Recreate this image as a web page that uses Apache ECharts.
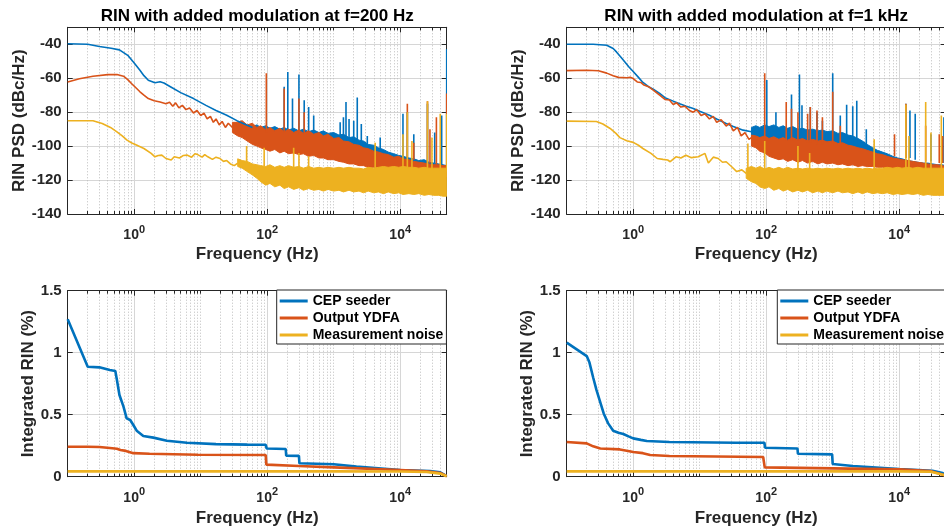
<!DOCTYPE html>
<html>
<head>
<meta charset="utf-8">
<script src="https://cdn.jsdelivr.net/npm/echarts@6/dist/echarts.min.js"></script>
<style>
  html, body { margin: 0; padding: 0; background: #fff; }
  #chart { width: 944px; height: 526px; }
</style>
</head>
<body>
<div id="chart"></div>
<script>
// ---- data ----
const seriesNames = ["CEP seeder", "Output YDFA", "Measurement noise"];
const titles = ["RIN with added modulation at f=200 Hz", "RIN with added modulation at f=1 kHz"];
const freqTickValues = [1, 100, 10000];

// frequency nodes used for the noisy bands (Hz)
const bandFreq = [30, 36, 42, 50, 60, 70, 80, 95, 110, 130, 155, 180, 210, 250, 300, 350, 420, 500, 600, 700,
  820, 1000, 1200, 1400, 1700, 2000, 2400, 2800, 3300, 4000, 4700, 5600, 6600, 8000, 9500, 11000, 13500, 16000,
  19000, 23000, 27000, 32000, 38000, 44000, 50000];

// ---- f = 200 Hz, PSD (dBc/Hz) ----
const tlBlueLine = [[0.1,-39.7],[0.2,-40],[0.3,-41.3],[0.45,-42.3],[0.6,-43.3],[0.8,-46.5],[1.0,-51],[1.22,-55.3],
  [1.4,-58.5],[1.63,-61.2],[2.05,-62.7],[2.45,-62.1],[2.8,-62.8],[3.5,-65],[5,-68.5],[7.8,-72],[12,-76],[17,-79],
  [24.6,-81.8],[35,-85],[49,-87.6],[60,-89]];
const tlBlueHigh = [null,null,null,null,-88.5,-87.5,-89,-88,-89.5,-88.5,-90,-89,-90.5,-89.5,-91,-90,-91.5,-90.5,-92,-91,
  -92.5,-92,-93.5,-93,-95,-94.5,-96.5,-97,-99,-99.5,-101,-102,-103.5,-104.5,-105.5,-106,-107,-107.5,-108.5,-108,
  -109.5,-110,-110.5,-111,-111.5];
const tlBlueLow = [null,null,null,null,-93,-94,-95,-96,-98,-99,-99,-100,-100,-101,-101,-102,-102,-103,-103,-104,
  -104,-105,-105,-106,-107,-107,-108,-108,-109,-110,-110,-111,-111,-112,-112,-113,-113,-114,-114,-115,
  -115,-115,-116,-116,-116];
const tlBlueSpikes = [[180,-92,-65],[204,-92,-56.3],[240,-92,-72],[300,-92,-57.8],[360,-93,-73],[420,-93,-77],
  [500,-94,-82],[1250,-96,-86],[1400,-96,-83],[1530,-97,-74],[1700,-98,-84],[2000,-98,-85],[2260,-99,-71.4],
  [2600,-100,-87],[3200,-102,-94],[5000,-104,-95],[11000,-106,-81],[12800,-107,-80],[16000,-108,-93],
  [25700,-110,-75],[33000,-110,-92],[42000,-111,-82],[50000,-112,-43]];

const tlOrangeLine = [[0.1,-62.2],[0.15,-60.3],[0.24,-58.8],[0.4,-57.9],[0.55,-57.8],[0.69,-58.8],[0.8,-60.8],
  [0.91,-63.1],[1.05,-65.5],[1.22,-68],[1.4,-70],[1.63,-72],[2.0,-73.3],[2.45,-74],[3.0,-75],[3.4,-74.2],[3.8,-76.5],
  [4.2,-74.5],[4.7,-77.5],[5.3,-76],[6,-78.5],[6.8,-77.5],[7.8,-80.5],[8.8,-79],[10,-82],[11.2,-80.5],[12.5,-84],
  [14,-82.5],[15.5,-86],[17,-84],[19,-87.5],[21,-85.5],[23.5,-89],[26,-86.5],[30,-89]];
const tlOrangeHigh = [-86,-86,-85,-87.5,-86.5,-89,-88,-90.5,-89,-91,-89.5,-91.5,-90,-92,-90.5,-92.5,-91,-93,-92,-94,
  -93,-95.5,-95,-97,-97.5,-99,-99.5,-101,-101.5,-103,-103.5,-104.5,-105,-106.5,-106,-107.5,-108,-109,-109.5,-110,
  -110.5,-111,-111,-111.5,-111.5];
const tlOrangeLow = [-92,-94,-95,-97,-99,-100,-101,-102,-103,-102,-104,-103,-104.5,-104,-105,-104.5,-106,-105.5,-107,-107,
  -108,-108,-109,-109.5,-110.5,-110.5,-111.5,-111.5,-112.5,-112.5,-113.5,-113.5,-114,-114.5,-115,-115,-115.5,-116,
  -116,-116.5,-117,-117,-117.5,-117.5,-118];
const tlOrangeSpikes = [[97,-92,-57],[180,-92,-66],[300,-93,-72],[360,-93,-80],[12800,-107,-75],[16000,-108,-98],
  [25700,-110,-73.5],[28000,-110,-90],[35000,-111,-83],[50000,-112,-69]];

const tlYellowLine = [[0.1,-85.1],[0.24,-85.1],[0.33,-86.7],[0.44,-89],[0.55,-91.6],[0.66,-94],[0.78,-96.5],
  [0.92,-98.2],[1.08,-99.4],[1.4,-101.4],[1.8,-104.3],[2.05,-106.3],[2.3,-105.5],[2.6,-105.3],[3.0,-107.3],
  [3.6,-108.2],[4.0,-106.3],[4.8,-107],[5.5,-105.5],[6.2,-105.3],[7.3,-106.5],[8.2,-104.5],[9,-105],[10.5,-106.5],
  [11.5,-105],[12.8,-106.3],[15,-107.8],[17,-106.5],[19.5,-107.3],[22,-109],[24.6,-108.5],[28,-110.5],[32,-111.5],
  [36,-110]];
const tlYellowHigh = [null,-107.5,-108.5,-109,-110.5,-111,-111.5,-112,-111,-112.5,-111.5,-112.5,-111.5,-112.5,-112,
  -113,-112,-113,-112.5,-113,-112.5,-113,-112.5,-113,-112.5,-113,-113,-113.5,-112.5,-113,-112.5,-112,-112.5,-112,
  -112.5,-112,-112.5,-112.5,-113,-112.5,-113,-113,-113,-113,-113];
const tlYellowLow = [null,-112,-113,-115,-117,-119,-121,-123,-122,-124,-123,-125,-124,-125.5,-124.5,-126,-125,-126,
  -125.5,-126.5,-125.5,-126.5,-126,-127,-126,-127,-126.5,-127.5,-126.5,-127.5,-127,-128,-127,-128,-127.5,-128.5,
  -128,-128.5,-128,-129,-128.5,-129,-129,-129.5,-129.5];
const tlYellowSpikes = [[49,-110,-100],[90,-112,-101],[250,-114,-101],[300,-114,-104],[420,-114,-106],
  [4200,-114,-98],[11000,-113,-93],[12800,-113,-80],[15000,-114,-97],[25700,-114,-73.5],[30000,-114,-95],
  [40000,-115,-81],[50000,-115,-81]];

// ---- f = 1 kHz, PSD (dBc/Hz) ----
const trBlueLine = [[0.1,-40],[0.25,-40],[0.4,-40.6],[0.5,-42.5],[0.56,-44.5],[0.65,-47.5],[0.75,-50.4],[0.87,-53.5],
  [1.0,-56],[1.2,-59.5],[1.4,-62.5],[1.7,-65],[2.0,-66.5],[2.5,-69],[3.0,-71.5],[4.0,-73.5],[5.0,-75],[6.3,-76.5],
  [8,-77.8],[10,-79.5],[14,-81.8],[18,-84],[25,-86.7],[32,-88.5],[45,-90.6],[60,-91.5]];
const trBlueHigh = [null,null,null,null,-89,-88,-89,-87.5,-88.5,-87.5,-89,-88,-89.5,-88.5,-90,-89.5,-90.5,-90,-91,-90.5,
  -91.5,-91,-92.5,-92,-93.5,-94,-95.5,-97,-99,-101,-102.5,-103.5,-104.5,-106,-107,-107.5,-108.5,-109,-109.5,-110,
  -110,-110.5,-111,-111,-111.5];
const trBlueLow = [null,null,null,null,-95,-96,-97,-98,-99,-99,-100,-100,-101,-101,-102,-102,-103,-103,-104,-104,
  -105,-105,-106,-106,-107,-107,-108,-108,-109,-109,-110,-110,-111,-111,-112,-112,-113,-113,-114,-114,
  -115,-115,-115,-116,-116];
const trBlueSpikes = [[102,-92,-61],[140,-92,-80],[240,-93,-69.6],[316,-93,-57.8],[345,-93,-76],[460,-94,-77],
  [580,-94,-80],[700,-95,-85],[1000,-96,-57],[1300,-97,-82],[1620,-98,-75.6],[2000,-99,-76.5],[2300,-100,-73.3],
  [3200,-102,-90],[12600,-107,-75],[14500,-107,-79],[17400,-108,-81],[30000,-109,-93],[47000,-110,-83]];

const trOrangeLine = [[0.1,-55.5],[0.2,-55.3],[0.3,-55.6],[0.4,-57],[0.5,-58.5],[0.6,-59.5],[0.8,-59.7],[0.9,-59.5],
  [1.0,-60.2],[1.15,-62.2],[1.3,-62.5],[1.45,-64],[1.7,-65],[2.0,-67],[2.5,-70],[3.0,-72.5],[3.5,-72.8],[4.0,-75.5],
  [4.5,-74.5],[5.2,-77],[6,-76.5],[7,-79],[8,-80],[9,-78.5],[10.5,-82],[12,-81],[14,-84],[16,-82.5],[18,-86],
  [21,-84.5],[25,-88.2],[28,-86.5],[32,-91],[37,-89],[42,-94],[48,-92],[55,-96],[60,-95]];
const trOrangeHigh = [null,null,null,null,-93.5,-94,-95,-94,-95.5,-94.5,-96,-95,-96.5,-95,-96.5,-95.5,-97,-96,-97,-96.5,
  -97.5,-97,-98.5,-98,-99.5,-100,-101,-101.5,-102.5,-103.5,-104.5,-105,-106,-107,-107.5,-108,-108.5,-109,-109.5,
  -110,-110.5,-111,-111,-111.5,-112];
const trOrangeLow = [null,null,null,null,-100,-101,-103,-104,-106,-107,-108,-107.5,-109,-108,-109.5,-108.5,-110,-109,
  -110.5,-109.5,-110.5,-110,-111,-110.5,-111.5,-111,-112,-111.5,-112,-112,-112.5,-112.5,-113,-113,-113.5,-113.5,
  -114,-114,-114.5,-114.5,-115,-115,-115.5,-115.5,-116];
const trOrangeSpikes = [[95,-96,-57],[200,-97,-74],[240,-97,-78],[300,-97,-80],[420,-98,-81],[460,-98,-77],
  [580,-99,-79],[700,-99,-83],[1000,-100,-68],[1300,-101,-88],[8500,-106,-93],[12600,-107,-75],[25000,-109,-88],
  [40000,-110,-93],[45000,-110,-94]];

const trYellowLine = [[0.1,-85.3],[0.28,-85.5],[0.35,-87],[0.45,-89.6],[0.55,-92.5],[0.63,-95],[0.8,-96.8],[1.0,-97.8],
  [1.2,-99.5],[1.4,-101.4],[1.85,-104.3],[2.3,-107.3],[2.8,-107.8],[3.3,-108.2],[3.6,-109.2],[4.4,-106.3],[5.2,-107],
  [6.2,-105.4],[7.5,-106.8],[9.5,-106.3],[12,-104.3],[13.5,-110],[16,-106.5],[19,-107.3],[22,-109.5],[25,-109.2],
  [30,-112],[36,-115],[43,-114],[50,-116]];
const trYellowHigh = [null,null,null,-113,-112,-113,-112,-113.5,-112.5,-113.5,-112.5,-113.5,-112.5,-113.5,-113,-113.5,
  -113,-113.5,-113,-113.5,-113,-113.5,-113,-113.5,-113,-113.5,-113,-113.5,-113,-113.5,-113,-113,-112.5,-113,-112.5,
  -113,-112.5,-113,-112.5,-113,-113,-113,-113,-113,-113];
const trYellowLow = [null,null,null,-119,-121,-122,-124,-125,-124,-126,-125,-126.5,-125.5,-127,-126,-127,-126,-127.5,
  -126.5,-127.5,-126.5,-127.5,-126.5,-127.5,-127,-128,-127,-128,-127,-128,-127.5,-128,-127.5,-128.5,-128,-128.5,
  -128,-128.5,-128,-129,-128.5,-129,-129,-129,-129];
const trYellowSpikes = [[53,-113,-98.4],[95,-114,-97],[300,-115,-100],[450,-115,-104],[4200,-115,-96],
  [12600,-114,-75.5],[14000,-114,-94],[25000,-114,-74],[30000,-114,-92],[43000,-115,-82]];

// ---- integrated RIN (%) ----
const blIntBlue = [[0.1,1.269],[0.2,0.887],[0.3,0.882],[0.43,0.86],[0.52,0.852],[0.55,0.78],[0.6,0.659],[0.69,0.565],
  [0.77,0.47],[0.87,0.457],[0.97,0.417],[1.09,0.371],[1.37,0.328],[1.94,0.315],[3.1,0.29],[6.2,0.274],[17,0.263],
  [50,0.259],[95,0.258],[98,0.228],[190,0.223],[193,0.169],[300,0.168],[305,0.108],[1000,0.1],[2200,0.081],
  [10000,0.054],[28000,0.046],[40000,0.035],[50000,0.005]];
const blIntOrange = [[0.1,0.242],[0.2,0.242],[0.3,0.239],[0.43,0.232],[0.55,0.226],[0.62,0.215],[0.75,0.208],
  [0.97,0.19],[1.7,0.185],[9,0.177],[95,0.175],[97,0.097],[300,0.086],[1000,0.075],[10000,0.054],[25000,0.043],
  [40000,0.03],[50000,0.005]];
const blIntYellow = [[0.1,0.043],[100,0.043],[1000,0.043],[10000,0.042],[25000,0.038],[40000,0.025],[50000,0.004]];

const brIntBlue = [[0.1,1.081],[0.2,0.973],[0.22,0.92],[0.25,0.8],[0.28,0.7],[0.32,0.6],[0.36,0.51],[0.42,0.43],
  [0.5,0.371],[0.6,0.355],[0.71,0.344],[0.85,0.325],[1.0,0.309],[1.3,0.297],[1.6,0.288],[3.5,0.28],[35,0.274],
  [94,0.274],[96,0.234],[295,0.228],[300,0.185],[980,0.18],[1000,0.102],[2000,0.086],[10000,0.062],[31600,0.048],
  [45000,0.03],[50000,0.008]];
const brIntOrange = [[0.1,0.28],[0.2,0.269],[0.25,0.245],[0.32,0.228],[0.63,0.22],[0.8,0.21],[1.0,0.199],[1.4,0.19],
  [1.8,0.175],[3.5,0.167],[90,0.159],[95,0.075],[1000,0.067],[10000,0.059],[30000,0.045],[50000,0.008]];
const brIntYellow = [[0.1,0.043],[1000,0.043],[10000,0.043],[30000,0.04],[50000,0.01]];

// ---- styling ----
const FONT = "'Liberation Sans', Arial, Helvetica, sans-serif";
const INK = '#262626';
const COLORS = ['#0072BD', '#D95319', '#EDB120'];

const gridBoxes = [
  { left: 67.7, top: 27.3, width: 379, height: 186.7 },
  { left: 566.7, top: 27.3, width: 379, height: 186.7 },
  { left: 67.7, top: 290.7, width: 379, height: 186 },
  { left: 566.7, top: 290.7, width: 379, height: 186 }
];

// minor (dotted) decade positions, MATLAB style
const minorFreqs = [];
for (let e = -1; e <= 4; e++) {
  for (let m = 1; m <= 9; m++) {
    const v = +(m * Math.pow(10, e)).toPrecision(3);
    if (v > 50000) break;
    if (freqTickValues.indexOf(v) >= 0) continue;
    minorFreqs.push(v);
  }
}

function makeXAxes(g) {
  const base = { type: 'log', logBase: 10, min: 0.1, max: 50000, gridIndex: g };
  const tickLine = { color: INK, width: 1 };
  return [
    Object.assign({}, base, {
      position: 'bottom',
      name: 'Frequency (Hz)', nameLocation: 'middle', nameGap: g < 2 ? 32 : 33,
      nameTextStyle: { fontFamily: FONT, fontSize: 17, fontWeight: 'bold', color: INK },
      axisLine: { show: true, onZero: false, lineStyle: tickLine },
      axisTick: { show: true, inside: true, length: 5, customValues: freqTickValues, lineStyle: tickLine },
      axisLabel: {
        customValues: freqTickValues, margin: 10,
        formatter: v => '{b|10}{s|' + Math.round(Math.log10(v)) + '}',
        rich: {
          b: { fontFamily: FONT, fontSize: 14, fontWeight: 'bold', color: INK, verticalAlign: 'bottom' },
          s: { fontFamily: FONT, fontSize: 11, fontWeight: 'bold', color: INK, padding: [0, 0, 7, 0], verticalAlign: 'bottom' }
        }
      },
      splitLine: { show: true, lineStyle: { color: '#d6d6d6', width: 1 } }
    }),
    Object.assign({}, base, {
      position: 'bottom',
      axisLine: { show: false, onZero: false },
      axisTick: { show: true, inside: true, length: 3, customValues: minorFreqs, lineStyle: tickLine },
      axisLabel: { show: false },
      splitLine: { show: true, lineStyle: { color: '#bdbdbd', width: 1, type: [1, 2] } }
    }),
    Object.assign({}, base, {
      position: 'top',
      axisLine: { show: true, onZero: false, lineStyle: tickLine },
      axisTick: { show: true, inside: true, length: 5, customValues: freqTickValues, lineStyle: tickLine },
      axisLabel: { show: false },
      splitLine: { show: false }
    }),
    Object.assign({}, base, {
      position: 'top',
      axisLine: { show: false, onZero: false },
      axisTick: { show: true, inside: true, length: 3, customValues: minorFreqs, lineStyle: tickLine },
      axisLabel: { show: false },
      splitLine: { show: false }
    })
  ];
}

function makeYAxes(g) {
  const psd = g < 2;
  const base = psd ? { type: 'value', min: -140, max: -30, interval: 20, gridIndex: g }
                   : { type: 'value', min: 0, max: 1.5, interval: 0.5, gridIndex: g };
  const tickLine = { color: INK, width: 1 };
  return [
    Object.assign({}, base, {
      position: 'left',
      name: psd ? 'RIN PSD (dBc/Hz)' : 'Integrated RIN (%)',
      nameLocation: 'middle', nameGap: psd ? 38 : 30,
      nameTextStyle: { fontFamily: FONT, fontSize: 17, fontWeight: 'bold', color: INK },
      axisLine: { show: true, onZero: false, lineStyle: tickLine },
      axisTick: { show: true, inside: true, length: 5, lineStyle: tickLine },
      axisLabel: { fontFamily: FONT, fontSize: 15, fontWeight: 'bold', color: INK, margin: 6, showMaxLabel: !psd },
      splitLine: { show: true, lineStyle: { color: '#d6d6d6', width: 1 } }
    }),
    Object.assign({}, base, {
      position: 'right',
      axisLine: { show: true, onZero: false, lineStyle: tickLine },
      axisTick: { show: true, inside: true, length: 5, lineStyle: tickLine },
      axisLabel: { show: false },
      splitLine: { show: false }
    })
  ];
}

function lineSeries(g, data, color, width, name) {
  return {
    type: 'line', name: name, xAxisIndex: 4 * g, yAxisIndex: 2 * g, data: data,
    showSymbol: false, symbol: 'none', silent: true,
    lineStyle: { color: color, width: width }, itemStyle: { color: color }
  };
}

function bandSeries(g, low, high, color) {
  let first = 0;
  while (high[first] == null) first++;
  return {
    type: 'custom', xAxisIndex: 4 * g, yAxisIndex: 2 * g, silent: true, clip: true,
    data: [[bandFreq[first], high[first]]],
    renderItem: function (params, api) {
      const top = [], bottom = [];
      for (let i = first; i < bandFreq.length; i++) {
        top.push(api.coord([bandFreq[i], high[i]]));
        bottom.push(api.coord([bandFreq[i], low[i]]));
      }
      return {
        type: 'polygon',
        shape: { points: top.concat(bottom.reverse()) },
        style: { fill: color, stroke: color, lineWidth: 1 }
      };
    }
  };
}

function spikeSeries(g, spikes, color) {
  return {
    type: 'custom', xAxisIndex: 4 * g, yAxisIndex: 2 * g, silent: true, clip: true,
    data: spikes, encode: { x: 0, y: [1, 2] },
    renderItem: function (params, api) {
      const a = api.coord([api.value(0), api.value(1)]);
      const b = api.coord([api.value(0), api.value(2)]);
      return {
        type: 'line',
        shape: { x1: a[0], y1: a[1], x2: b[0], y2: b[1] },
        style: { stroke: color, lineWidth: 1.6 }
      };
    }
  };
}

const psdSets = [
  [[tlBlueLine, tlBlueLow, tlBlueHigh, tlBlueSpikes],
   [tlOrangeLine, tlOrangeLow, tlOrangeHigh, tlOrangeSpikes],
   [tlYellowLine, tlYellowLow, tlYellowHigh, tlYellowSpikes]],
  [[trBlueLine, trBlueLow, trBlueHigh, trBlueSpikes],
   [trOrangeLine, trOrangeLow, trOrangeHigh, trOrangeSpikes],
   [trYellowLine, trYellowLow, trYellowHigh, trYellowSpikes]]
];
const intSets = [
  [blIntBlue, blIntOrange, blIntYellow],
  [brIntBlue, brIntOrange, brIntYellow]
];

const series = [];
psdSets.forEach((set, g) => {
  set.forEach((s, k) => {
    series.push(lineSeries(g, s[0], COLORS[k], 1.6));
    series.push(bandSeries(g, s[1], s[2], COLORS[k]));
    series.push(spikeSeries(g, s[3], COLORS[k]));
  });
});
intSets.forEach((set, j) => {
  set.forEach((d, k) => series.push(lineSeries(2 + j, d, COLORS[k], 2.6, seriesNames[k])));
});

let xAxes = [], yAxes = [];
for (let g = 0; g < 4; g++) {
  xAxes = xAxes.concat(makeXAxes(g));
  yAxes = yAxes.concat(makeYAxes(g));
}

function legendAt(left) {
  return {
    orient: 'vertical', left: left, top: 290, data: seriesNames, icon: 'rect',
    itemWidth: 28, itemHeight: 3, itemGap: 1, padding: [3, 3, 1, 3], selectedMode: false,
    backgroundColor: '#fff', borderColor: INK, borderWidth: 1, borderRadius: 0,
    textStyle: { fontFamily: FONT, fontSize: 14, fontWeight: 'bold', color: '#000', lineHeight: 16 }
  };
}

const myChart = echarts.init(document.getElementById('chart'), null, { renderer: 'canvas' });
myChart.setOption({
  animation: false,
  backgroundColor: '#fff',
  title: titles.map((t, i) => ({
    text: t, left: gridBoxes[i].left + gridBoxes[i].width / 2, top: 8, textAlign: 'center', padding: 0,
    textStyle: { fontFamily: FONT, fontSize: 17, fontWeight: 'bold', color: '#000' }
  })),
  legend: [legendAt(276.7), legendAt(777.3)],
  grid: gridBoxes.map(b => Object.assign({ show: false, containLabel: false, outerBoundsMode: 'none' }, b)),
  xAxis: xAxes,
  yAxis: yAxes,
  series: series
});
</script>
</body>
</html>
